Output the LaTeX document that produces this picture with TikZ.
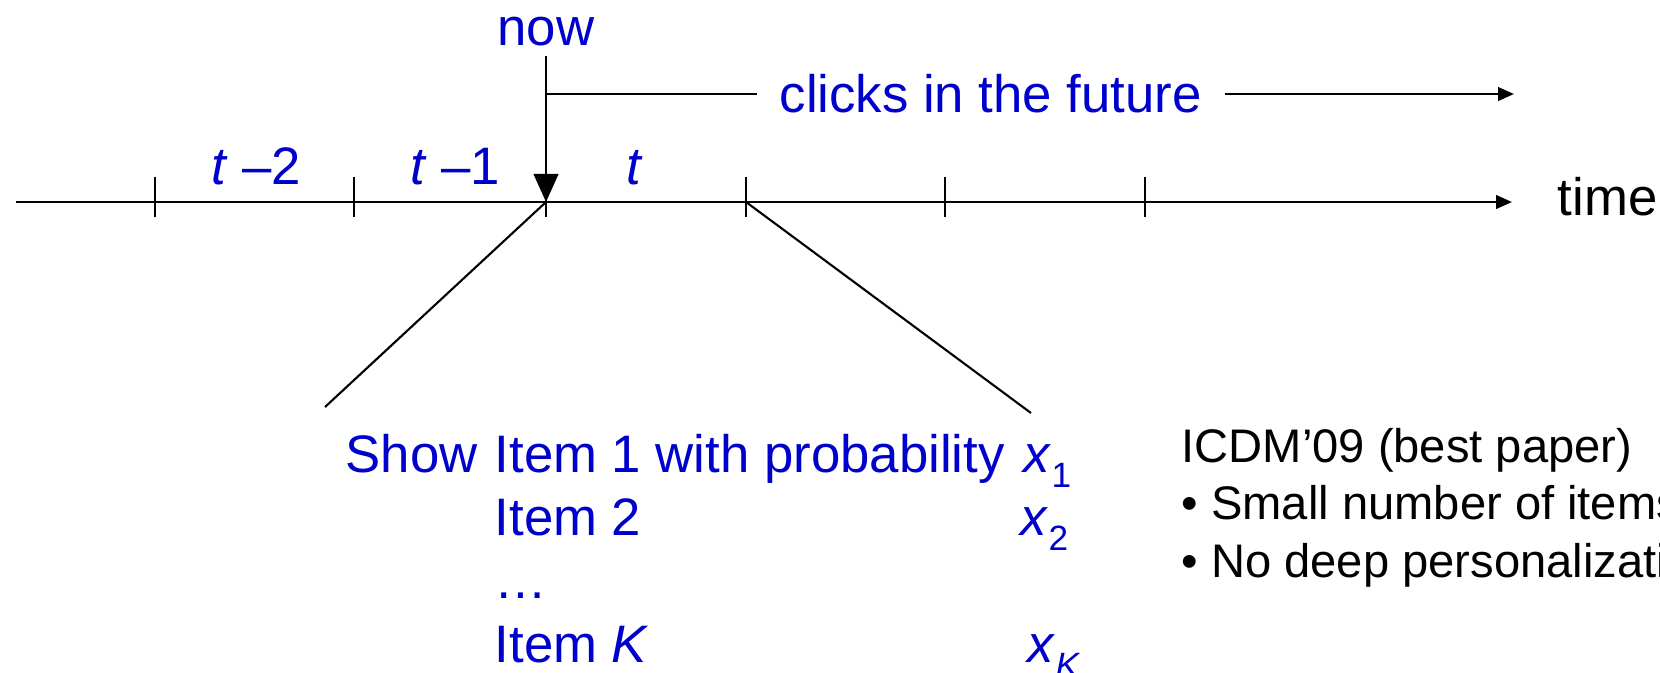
\documentclass[tikz,border=0pt]{standalone}
\usepackage{fontspec}
\setmainfont{Liberation Sans}
\usetikzlibrary{arrows.meta}
\definecolor{ItemBlue}{HTML}{0000CC}
\newcommand{\lowsub}[1]{\raisebox{-0.3em}{\fontsize{10}{12}\selectfont #1}}

\begin{document}
\begin{tikzpicture}[x=0.01cm,y=-0.01cm,
  lbl/.style={inner sep=0pt,text=ItemBlue,font=\fontsize{15}{18}\selectfont},
  blk/.style={inner sep=0pt,font=\fontsize{15}{18}\selectfont},
  axisline/.style={line width=0.75pt},
  fan/.style={line width=0.6pt},
  smalltip/.style={-{Triangle[length=4.5pt,width=3.8pt]}}]
\useasboundingbox (0,0) rectangle (1660,672);
% time axis
\coordinate (axisL) at (16,202);
\coordinate (axisR) at (1512,202);
\draw[axisline,smalltip] (axisL) -- (axisR);
\node[blk,anchor=base west] (time) at (1557,215) {time};
\foreach \i/\x in {1/155,2/354,3/546,4/746,5/945,6/1145} {\coordinate (tk\i) at (\x,202); \draw[axisline] (\x,177) -- (\x,217);}
% slot labels
\node[lbl,anchor=base] (slotA) at (256,184) {\textit{t} –2};
\node[lbl,anchor=base] (slotB) at (455,184) {\textit{t} –1};
\node[lbl,anchor=base] (slotC) at (635,184) {\textit{t}};
% now and the clicks to come
\node[lbl,anchor=base,inner ysep=0.1cm] (now) at (546,45) {now};
\coordinate (branch) at (546,94);
\draw[axisline,-{Triangle[length=8pt,width=7pt]}] (now.south) -- (tk3);
\node[lbl,anchor=west,inner xsep=0.22cm] (clicks) at (757,94) {clicks in the future};
\coordinate (future) at (1514,94);
\draw[axisline] (branch) -- (clicks.west);
\draw[axisline,smalltip] (clicks.east) -- (future);
% fan down to the items
\coordinate (fanL) at (325,407);
\coordinate (fanR) at (1031,413);
\draw[fan] (tk3) -- (fanL);
\draw[fan] (tk4) -- (fanR);
% shown items
\node[lbl,anchor=base west] (show) at (345,472) {Show};
\node[lbl,anchor=base west] (item1) at (494,472) {Item 1 with probability};
\node[lbl,anchor=base west] (item2) at (494,535) {Item 2};
\node[lbl,anchor=base west] (dots) at (494,598) {…};
\node[lbl,anchor=base west] (itemK) at (494,662) {Item \textit{K}};
\node[lbl,anchor=base west] (x1) at (1023,472) {\textit{x}\lowsub{1}};
\node[lbl,anchor=base west] (x2) at (1020,535) {\textit{x}\lowsub{2}};
\node[lbl,anchor=base west] (xK) at (1027,662) {\textit{x}\lowsub{\textit{K}}};
% paper note
\node[anchor=base west,inner sep=0pt,align=left,font=\fontsize{13.4}{16.3}\selectfont] (icdm) at (1181,577) {ICDM’09 (best paper)\\• Small number of items\\• No deep personalization};
\end{tikzpicture}
\end{document}
